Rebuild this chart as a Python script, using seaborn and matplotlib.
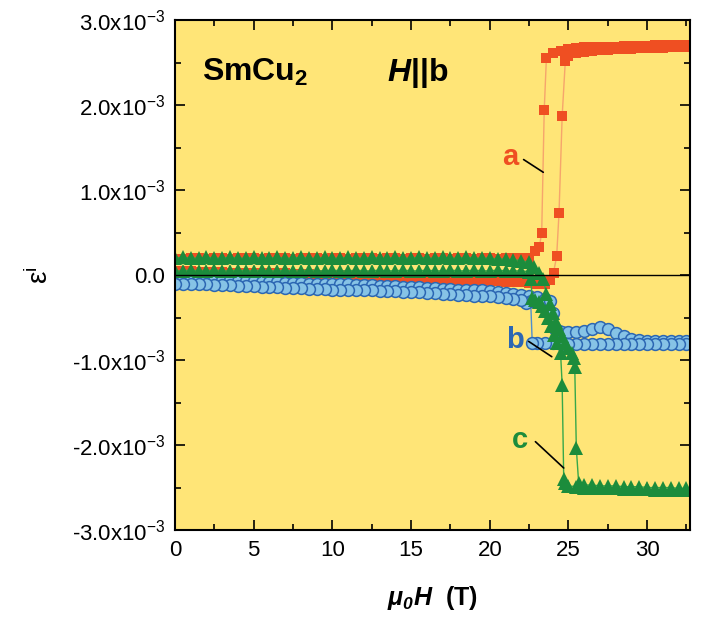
import matplotlib
matplotlib.use("Agg")
import matplotlib.pyplot as plt
from matplotlib.ticker import MultipleLocator, FuncFormatter
import pandas as pd
import seaborn as sns

# strain values in units of 1e-3, field in tesla
field_low = [0.0, 0.5, 1.0, 1.5, 2.0, 2.5, 3.0, 3.5, 4.0, 4.5,
             5.0, 5.5, 6.0, 6.5, 7.0, 7.5, 8.0, 8.5, 9.0, 9.5,
             10.0, 10.5, 11.0, 11.5, 12.0, 12.5, 13.0, 13.5, 14.0, 14.5,
             15.0, 15.5, 16.0, 16.5, 17.0, 17.5, 18.0, 18.5, 19.0, 19.5,
             20.0, 20.5, 21.0, 21.5, 22.0]

# curve a
a_up_low = [0.05, 0.05, 0.05, 0.04, 0.04, 0.04, 0.04, 0.03, 0.03, 0.03,
            0.03, 0.02, 0.02, 0.02, 0.02, 0.01, 0.01, 0.01, 0.00, 0.00,
            0.00, 0.00, -0.01, -0.01, -0.01, -0.02, -0.02, -0.02, -0.03, -0.03,
            -0.03, -0.04, -0.04, -0.05, -0.05, -0.05, -0.06, -0.06, -0.06, -0.07,
            -0.07, -0.07, -0.08, -0.08, -0.08]
a_up_tr_field = [22.5, 23.0, 23.5, 23.8, 24.05, 24.25, 24.4, 24.6, 24.8, 25.0, 25.5, 26.0,
                 26.5, 27.0, 27.5, 28.0, 28.5, 29.0, 29.5, 30.0, 30.5, 31.0, 31.5, 32.0, 32.5]
a_up_tr = [-0.09, -0.10, -0.11, -0.06, 0.03, 0.22, 0.73, 1.87, 2.52, 2.58, 2.61, 2.63,
           2.64, 2.65, 2.65, 2.66, 2.66, 2.66, 2.67, 2.67, 2.67, 2.67, 2.68, 2.68, 2.68]
a_down_tr_field = [32.5, 32.0, 31.5, 31.0, 30.5, 30.0, 29.5, 29.0, 28.5, 28.0, 27.5, 27.0,
                   26.5, 26.0, 25.5, 25.0, 24.5, 24.0, 23.6, 23.46, 23.3, 23.15, 22.9, 22.5]
a_down_tr = [2.71, 2.71, 2.71, 2.71, 2.71, 2.70, 2.70, 2.70, 2.70, 2.69, 2.69, 2.69,
             2.68, 2.68, 2.67, 2.66, 2.64, 2.61, 2.56, 1.94, 0.50, 0.33, 0.28, 0.20]
a_down_low = [0.19, 0.19, 0.20, 0.20, 0.19, 0.20, 0.20, 0.19, 0.20, 0.20,
              0.20, 0.19, 0.20, 0.20, 0.20, 0.19, 0.20, 0.20, 0.20, 0.19,
              0.20, 0.20, 0.19, 0.20, 0.20, 0.20, 0.19, 0.20, 0.20, 0.19,
              0.20, 0.20, 0.19, 0.20, 0.20, 0.19, 0.20, 0.20, 0.19, 0.20,
              0.20, 0.19, 0.20, 0.20, 0.20]

# curve b
b_up_low = [-0.04, -0.04, -0.05, -0.05, -0.05, -0.06, -0.06, -0.06, -0.07, -0.07,
            -0.07, -0.08, -0.08, -0.08, -0.09, -0.09, -0.09, -0.10, -0.10, -0.10,
            -0.11, -0.11, -0.11, -0.12, -0.12, -0.12, -0.13, -0.13, -0.13, -0.14,
            -0.14, -0.14, -0.15, -0.15, -0.16, -0.16, -0.17, -0.17, -0.18, -0.18,
            -0.19, -0.20, -0.21, -0.22, -0.23]
b_up_tr_field = [22.5, 23.0, 23.5, 23.85, 24.0, 24.15, 24.4, 24.6, 25.0, 25.5, 26.0, 26.5,
                 27.0, 27.5, 28.0, 28.5, 29.0, 29.5, 30.0, 30.5, 31.0, 31.5, 32.0, 32.5]
b_up_tr = [-0.24, -0.26, -0.28, -0.30, -0.45, -0.63, -0.66, -0.67, -0.67, -0.67, -0.66, -0.63,
           -0.61, -0.63, -0.68, -0.72, -0.75, -0.76, -0.77, -0.77, -0.78, -0.78, -0.78, -0.78]
b_down_tr_field = [32.5, 32.0, 31.5, 31.0, 30.5, 30.0, 29.5, 29.0, 28.5, 28.0, 27.5, 27.0,
                   26.5, 26.0, 25.5, 25.0, 24.5, 24.0, 23.5, 23.0, 22.7, 22.6, 22.3]
b_down_tr = [-0.81, -0.81, -0.81, -0.81, -0.81, -0.81, -0.81, -0.81, -0.81, -0.81, -0.81, -0.81,
             -0.81, -0.81, -0.81, -0.81, -0.81, -0.80, -0.80, -0.80, -0.80, -0.31, -0.33]
b_down_low = [-0.10, -0.10, -0.11, -0.11, -0.11, -0.12, -0.12, -0.12, -0.13, -0.13,
              -0.13, -0.14, -0.14, -0.14, -0.15, -0.15, -0.15, -0.16, -0.16, -0.16,
              -0.17, -0.17, -0.17, -0.18, -0.18, -0.18, -0.19, -0.19, -0.19, -0.20,
              -0.20, -0.20, -0.21, -0.21, -0.22, -0.22, -0.23, -0.23, -0.24, -0.24,
              -0.25, -0.26, -0.27, -0.28, -0.29]

# curve c
c_up_low = [0.20, 0.21, 0.20, 0.20, 0.21, 0.20, 0.20, 0.21, 0.20, 0.20,
            0.21, 0.20, 0.20, 0.21, 0.20, 0.20, 0.21, 0.20, 0.20, 0.21,
            0.20, 0.20, 0.21, 0.20, 0.20, 0.21, 0.20, 0.20, 0.21, 0.20,
            0.20, 0.21, 0.20, 0.20, 0.21, 0.20, 0.20, 0.21, 0.20, 0.20,
            0.20, 0.19, 0.19, 0.18, 0.17]
c_up_tr_field = [22.5, 22.8, 23.1, 23.4, 23.6, 23.8, 24.0, 24.2, 24.4, 24.6, 24.8, 25.0,
                 25.2, 25.35, 25.4, 25.5, 25.65, 26.0, 26.5, 27.0, 27.5, 28.0, 28.5, 29.0,
                 29.5, 30.0, 30.5, 31.0, 31.5, 32.0, 32.5]
c_up_tr = [0.15, 0.10, 0.03, -0.05, -0.22, -0.34, -0.45, -0.55, -0.64, -0.72, -0.80, -0.86,
           -0.92, -0.98, -1.08, -2.04, -2.45, -2.47, -2.47, -2.48, -2.48, -2.48, -2.49, -2.49,
           -2.49, -2.50, -2.50, -2.50, -2.50, -2.51, -2.51]
c_down_tr_field = [32.5, 32.0, 31.5, 31.0, 30.5, 30.0, 29.5, 29.0, 28.5, 28.0, 27.5, 27.0,
                   26.5, 26.0, 25.5, 25.0, 24.8, 24.7, 24.6, 24.5, 24.3, 24.1, 23.9, 23.7,
                   23.5, 23.3, 23.1, 22.9, 22.7, 22.6, 22.5]
c_down_tr = [-2.53, -2.53, -2.53, -2.53, -2.53, -2.52, -2.52, -2.52, -2.52, -2.51, -2.51, -2.51,
             -2.50, -2.50, -2.49, -2.48, -2.45, -2.40, -1.29, -0.92, -0.80, -0.70, -0.60, -0.50,
             -0.42, -0.36, -0.32, -0.29, -0.27, -0.05, 0.04]
c_down_low = [0.05, 0.05, 0.06, 0.05, 0.05, 0.06, 0.05, 0.05, 0.06, 0.05,
              0.05, 0.06, 0.05, 0.05, 0.06, 0.05, 0.05, 0.06, 0.05, 0.05,
              0.06, 0.05, 0.05, 0.06, 0.05, 0.05, 0.06, 0.05, 0.05, 0.06,
              0.05, 0.05, 0.06, 0.05, 0.05, 0.06, 0.05, 0.05, 0.06, 0.05,
              0.05, 0.06, 0.05, 0.05, 0.05]

labels = ["a", "b", "c"]
label_pos = [(21.3, 1.39), (21.6, -0.76), (21.9, -1.94)]
pointer_lines = [((22.15, 23.4), (1.36, 1.21)),
                 ((22.47, 23.94), (-0.78, -0.96)),
                 ((22.9, 24.7), (-1.96, -2.27))]


def loop(up_low, up_f, up_y, down_f, down_y, down_low):
    x = field_low + up_f + down_f + field_low[::-1]
    y = up_low + up_y + down_y + down_low[::-1]
    return pd.DataFrame({"field": x, "strain": y})


df_a = loop(a_up_low, a_up_tr_field, a_up_tr, a_down_tr_field, a_down_tr, a_down_low)
df_b = loop(b_up_low, b_up_tr_field, b_up_tr, b_down_tr_field, b_down_tr, b_down_low)
df_c = loop(c_up_low, c_up_tr_field, c_up_tr, c_down_tr_field, c_down_tr, c_down_low)

sns.set_style("ticks")
plt.rcParams["font.family"] = ["Liberation Sans", "DejaVu Sans"]
plt.rcParams["mathtext.fontset"] = "custom"
plt.rcParams["mathtext.rm"] = "Liberation Sans"
plt.rcParams["mathtext.it"] = "Liberation Sans:italic"
plt.rcParams["mathtext.bf"] = "Liberation Sans:bold"
plt.rcParams["mathtext.bfit"] = "Liberation Sans:bold:italic"
for key in ["text.color", "axes.labelcolor", "xtick.color", "ytick.color"]:
    plt.rcParams[key] = "black"

orange = "#EF4F22"
blue_edge = "#2C67B3"
blue_face = "#86C3E6"
green = "#1C8C3C"

fig = plt.figure(figsize=(7.04, 6.31), dpi=100)
ax = fig.add_axes([0.2486, 0.160, 0.731, 0.808])
ax.set_facecolor("#FFE577")

sns.lineplot(data=df_a, x="field", y="strain", sort=False, estimator=None, ax=ax,
             color="#F6A56C", lw=1.0, marker="s", markersize=7.2,
             markerfacecolor=orange, markeredgecolor=orange, markeredgewidth=0)
sns.lineplot(data=df_b, x="field", y="strain", sort=False, estimator=None, ax=ax,
             color="#4F8FCF", lw=1.0, marker="o", markersize=8.5,
             markerfacecolor=blue_face, markeredgecolor=blue_edge, markeredgewidth=1.1)
sns.lineplot(data=df_c, x="field", y="strain", sort=False, estimator=None, ax=ax,
             color="#36A84A", lw=1.0, marker="^", markersize=10,
             markerfacecolor=green, markeredgecolor=green, markeredgewidth=0)

ax.axhline(0, color="black", lw=1.0, zorder=5)

for lab, col, (tx, ty), (lx, ly) in zip(labels, [orange, blue_edge, green], label_pos, pointer_lines):
    ax.text(tx, ty, lab, color=col, fontsize=21, fontweight="bold", ha="center", va="center")
    ax.plot(lx, ly, color="black", lw=1.2, zorder=6)

ax.text(1.7, 2.28, r"SmCu$_{\mathbf{2}}$", fontsize=23, fontweight="bold", ha="left", va="baseline")
ax.text(13.5, 2.28, r"$\mathbfit{H}$||b", fontsize=23, fontweight="bold", ha="left", va="baseline")

ax.set_xlim(0, 32.7)
ax.set_ylim(-3, 3)
ax.xaxis.set_major_locator(MultipleLocator(5))
ax.xaxis.set_minor_locator(MultipleLocator(2.5))
ax.yaxis.set_major_locator(MultipleLocator(1))
ax.yaxis.set_minor_locator(MultipleLocator(0.5))
ax.yaxis.set_major_formatter(FuncFormatter(
    lambda v, p: "0.0" if abs(v) < 1e-9 else f"{v:.1f}x10$^{{-3}}$"))
ax.tick_params(which="both", direction="in", top=True, right=True, width=1.2)
ax.tick_params(which="major", length=7, labelsize=16, pad=7)
ax.tick_params(which="minor", length=4)
for s in ax.spines.values():
    s.set_linewidth(1.5)
    s.set_color("black")

ax.set_xlabel(r"$\mathbfit{\mu_0H}$  (T)", fontsize=18, fontweight="bold")
ax.set_ylabel(r"ε$^{\mathrm{i}}$", fontsize=20)
ax.xaxis.set_label_coords(0.5, -0.105)
ax.yaxis.set_label_coords(-0.235, 0.5)

fig.savefig("out.png", dpi=100, facecolor="white")
